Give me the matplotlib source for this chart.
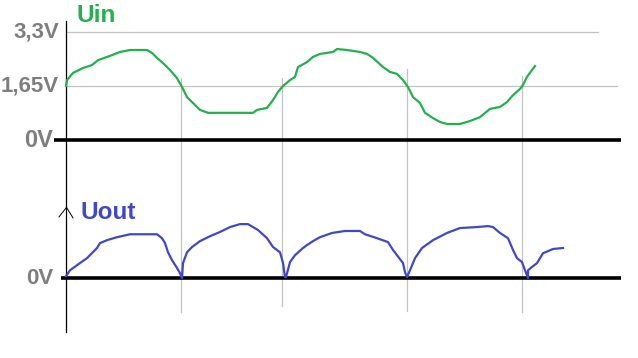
import matplotlib
matplotlib.use('Agg')
import matplotlib.pyplot as plt

# time in arbitrary units (0 = vertical axis), voltage in V
uin_t = [0, 1, 7, 17, 26, 32, 44, 54, 64, 81, 86, 91, 97, 104, 111, 116, 121, 127,
         134, 142, 187, 191, 201, 207, 212, 217, 224, 229, 232, 241, 247, 254, 267,
         271, 281, 294, 301, 307, 317, 324, 331, 337, 342, 347, 354, 359, 367, 374,
         381, 394, 404, 414, 424, 434, 441, 447, 454, 457, 461, 466, 469]
uin_v = [1.65, 1.83, 2.05, 2.20, 2.29, 2.44, 2.57, 2.69, 2.75, 2.75, 2.66, 2.51, 2.35,
         2.14, 1.89, 1.62, 1.31, 1.13, 0.92, 0.83, 0.83, 0.92, 0.98, 1.22, 1.47, 1.65,
         1.83, 1.93, 2.23, 2.38, 2.54, 2.63, 2.69, 2.78, 2.75, 2.69, 2.63, 2.51, 2.23,
         2.08, 2.02, 1.83, 1.62, 1.31, 1.13, 0.83, 0.67, 0.55, 0.49, 0.49, 0.58, 0.70,
         0.95, 1.01, 1.16, 1.37, 1.56, 1.68, 1.93, 2.14, 2.26]

uout_t = [0, 4, 14, 21, 31, 34, 41, 51, 64, 91, 96, 99, 102, 106, 111, 114, 116, 117,
          121, 126, 134, 144, 154, 164, 174, 182, 192, 201, 207, 214, 217, 219, 220,
          224, 229, 237, 241, 247, 254, 266, 279, 294, 299, 311, 322, 327, 331, 337,
          339, 341, 344, 349, 356, 367, 381, 394, 411, 422, 427, 434, 442, 447, 451,
          456, 459, 462, 462, 466, 471, 477, 487, 497]
uout_v = [0.06, 0.24, 0.46, 0.61, 0.92, 1.07, 1.16, 1.25, 1.34, 1.34, 1.22, 1.07, 0.79,
          0.55, 0.31, 0.15, 0.0, 0.46, 0.79, 0.95, 1.13, 1.28, 1.41, 1.56, 1.65, 1.65,
          1.47, 1.22, 0.95, 0.79, 0.46, 0.03, 0.03, 0.49, 0.70, 0.92, 1.01, 1.13, 1.25,
          1.38, 1.44, 1.44, 1.34, 1.22, 1.10, 0.86, 0.70, 0.46, 0.18, 0.03, 0.24, 0.61,
          0.92, 1.16, 1.38, 1.53, 1.56, 1.59, 1.56, 1.38, 1.22, 0.86, 0.61, 0.49, 0.24,
          0.0, 0.24, 0.34, 0.46, 0.76, 0.89, 0.92]

# zero crossings of Uin (marked by grey vertical lines)
cross_t = [115, 216, 341, 456]
cross_top = [1.89, 1.89, 2.17, 1.96]
cross_bot = [-5.26, -5.07, -5.22, -5.26]

level_labels = ['3,3V', '1,65V', '0V']
level_values = [3.3, 1.65, 0.0]

OFFSET = 4.22  # Uout baseline drawn below Uin

GREEN = '#22b14c'
BLUE = '#3f48cc'
GREY = '#c3c3c3'
LABEL = '#7f7f7f'

plt.rcParams['font.family'] = ['Liberation Sans', 'DejaVu Sans']

fig = plt.figure(figsize=(6.38, 3.58), dpi=100)
ax = fig.add_axes([0, 0, 1, 1])
ax.set_xlim(-66, 572)
ax.set_ylim(-6.661, 4.278)
ax.axis('off')

# grey reference lines
ax.plot([0, 532], [3.3, 3.3], color=GREY, lw=0.9)
ax.plot([0, 551], [1.65, 1.65], color=GREY, lw=0.9)
for t, y0, y1 in zip(cross_t, cross_top, cross_bot):
    ax.plot([t, t], [y0, y1], color=GREY, lw=0.9)

# baselines and axis
ax.plot([-12, 555], [0, 0], color='black', lw=2.6, solid_capstyle='butt')
ax.plot([-5, 555], [-OFFSET, -OFFSET], color='black', lw=2.6, solid_capstyle='butt')
ax.plot([0, 0], [3.64, -5.87], color='black', lw=0.9)
ax.plot([-7, 0.5, 7], [-2.35, -2.06, -2.38], color='black', lw=0.7)

# signals
ax.plot(uin_t, uin_v, color=GREEN, lw=1.6)
ax.plot(uout_t, [v - OFFSET for v in uout_v], color=BLUE, lw=1.6)

# texts
ax.text(10, 3.79, 'Uin', color=GREEN, fontsize=17.5, fontweight='bold', va='center')
ax.text(15, -2.23, 'Uout', color=BLUE, fontsize=17.5, fontweight='bold', va='center')
for lab, v in zip(level_labels, level_values):
    x = -13 if lab == '0V' else -7
    size = 17 if lab == '0V' else 16
    ax.text(x, v, lab, color=LABEL, fontsize=size, fontweight='bold', ha='right', va='center')
ax.text(-13, -OFFSET, '0V', color=LABEL, fontsize=16, fontweight='bold', ha='right', va='center')

fig.savefig('out.png', dpi=100)
